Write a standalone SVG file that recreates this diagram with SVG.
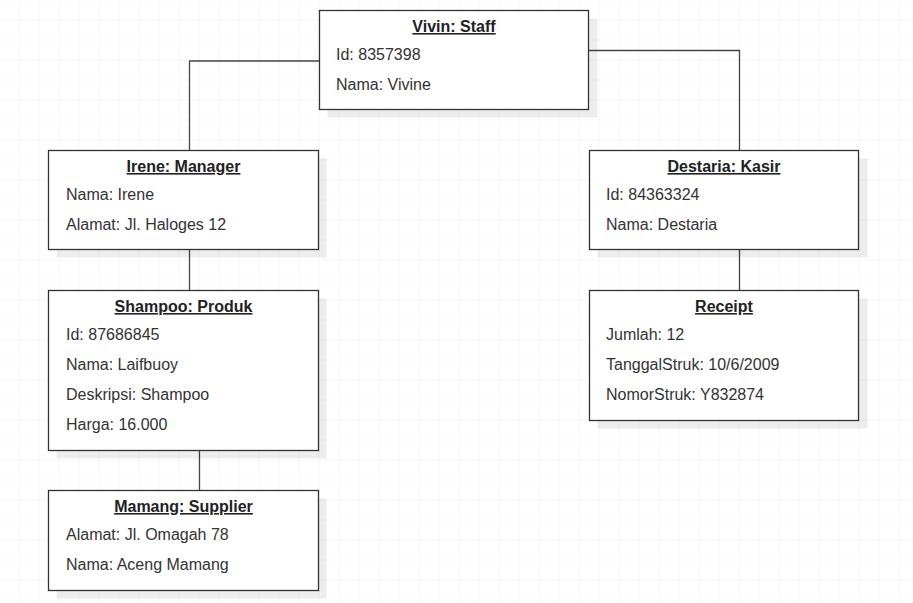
<svg xmlns="http://www.w3.org/2000/svg" width="913" height="603" viewBox="0 0 913 603">
<defs>
<pattern id="grid" width="20" height="20" patternUnits="userSpaceOnUse" x="-0.5" y="0.5">
<path d="M20 0V20M0 20H20" fill="none" stroke="#ececec" stroke-width="1"/>
</pattern>
</defs>
<style>
.box{fill:#fff;stroke:#333;stroke-width:1.3}
.sh{fill:#000;fill-opacity:0.07}
.t{font-family:"Liberation Sans",Arial,sans-serif;font-size:16px;font-weight:bold;fill:#222;text-anchor:middle;text-decoration:underline}
.a{font-family:"Liberation Sans",Arial,sans-serif;font-size:16px;fill:#333}
.c{fill:none;stroke:#444;stroke-width:1.3}
</style>
<rect width="913" height="603" fill="#fff"/>
<rect width="913" height="603" fill="url(#grid)"/>
<g id="connectors">
<path class="c" d="M319.5 61H189.5V150.5"/>
<path class="c" d="M588.5 50.5H739.5V150.5"/>
<path class="c" d="M189.5 249.5V290.5"/>
<path class="c" d="M199.5 450.5V490.5"/>
<path class="c" d="M739.5 249.5V290.5"/>
</g>
<g id="vivin">
<rect class="sh" x="327.5" y="18.5" width="270" height="99"/>
<rect class="box" x="319.5" y="10.5" width="269" height="99"/>
<text class="t" x="454" y="32">Vivin: Staff</text>
<text class="a" x="336" y="60">Id: 8357398</text>
<text class="a" x="336" y="90">Nama: Vivine</text>
</g>
<g id="irene">
<rect class="sh" x="56.5" y="158.5" width="270" height="99"/>
<rect class="box" x="48.5" y="150.5" width="270" height="99"/>
<text class="t" x="183.5" y="172">Irene: Manager</text>
<text class="a" x="66" y="200">Nama: Irene</text>
<text class="a" x="66" y="230">Alamat: Jl. Haloges 12</text>
</g>
<g id="destaria">
<rect class="sh" x="597.5" y="158.5" width="270" height="99"/>
<rect class="box" x="589.5" y="150.5" width="269" height="99"/>
<text class="t" x="724" y="172">Destaria: Kasir</text>
<text class="a" x="606" y="200">Id: 84363324</text>
<text class="a" x="606" y="230">Nama: Destaria</text>
</g>
<g id="shampoo">
<rect class="sh" x="56.5" y="298.5" width="270" height="160"/>
<rect class="box" x="48.5" y="290.5" width="270" height="160"/>
<text class="t" x="183.5" y="312">Shampoo: Produk</text>
<text class="a" x="66" y="340">Id: 87686845</text>
<text class="a" x="66" y="370">Nama: Laifbuoy</text>
<text class="a" x="66" y="400">Deskripsi: Shampoo</text>
<text class="a" x="66" y="430">Harga: 16.000</text>
</g>
<g id="receipt">
<rect class="sh" x="597.5" y="298.5" width="270" height="130"/>
<rect class="box" x="589.5" y="290.5" width="269" height="130"/>
<text class="t" x="724" y="312">Receipt</text>
<text class="a" x="606" y="340">Jumlah: 12</text>
<text class="a" x="606" y="370">TanggalStruk: 10/6/2009</text>
<text class="a" x="606" y="400">NomorStruk: Y832874</text>
</g>
<g id="mamang">
<rect class="sh" x="56.5" y="498.5" width="270" height="100"/>
<rect class="box" x="48.5" y="490.5" width="270" height="100"/>
<text class="t" x="183.5" y="512">Mamang: Supplier</text>
<text class="a" x="66" y="540">Alamat: Jl. Omagah 78</text>
<text class="a" x="66" y="570">Nama: Aceng Mamang</text>
</g>
</svg>
